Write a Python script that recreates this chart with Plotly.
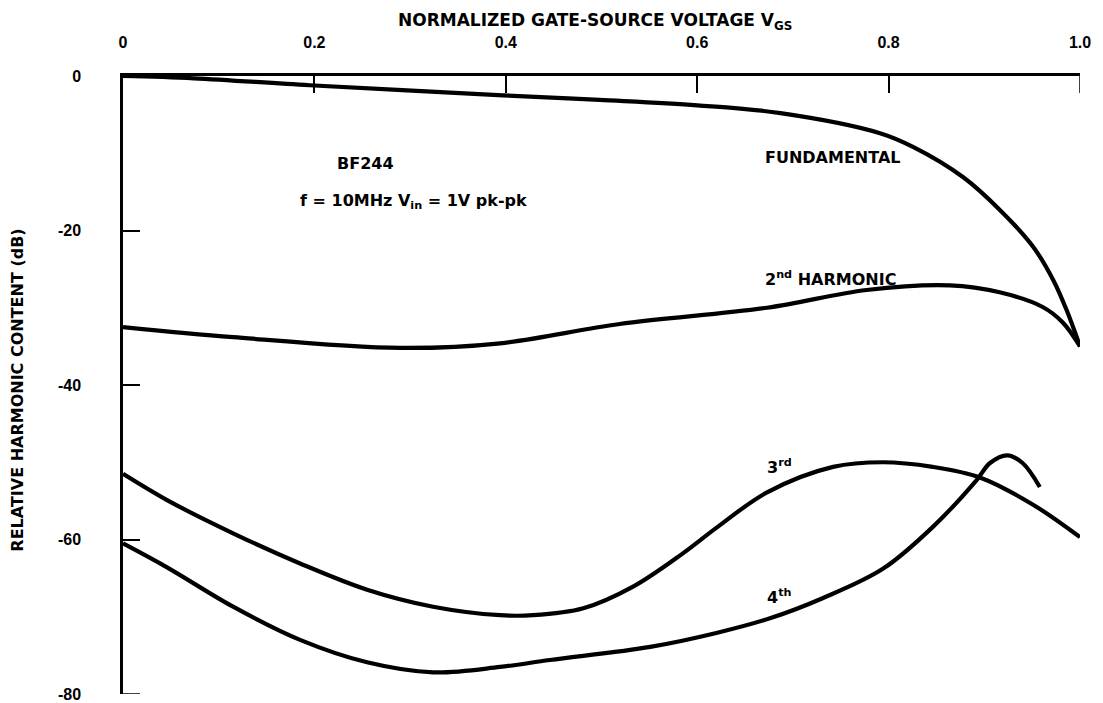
import plotly.graph_objects as go

# ---- data ----
fund_x = [0, 0.074, 0.195, 0.397, 0.498, 0.6, 0.687, 0.791, 0.826, 0.878, 0.916, 0.951, 0.972, 0.986, 1.0]
fund_y = [0, -0.3, -1.2, -2.5, -3.1, -3.8, -4.8, -7.4, -9.2, -13.1, -17.3, -22.1, -26.4, -30.3, -35.0]

h2_x = [0, 0.115, 0.289, 0.394, 0.519, 0.673, 0.777, 0.864, 0.916, 0.961, 0.982, 1.0]
h2_y = [-32.5, -33.8, -35.2, -34.6, -32.1, -30.0, -27.7, -27.1, -28.0, -29.9, -31.9, -35.0]

h3_x = [0, 0.046, 0.115, 0.185, 0.255, 0.324, 0.394, 0.428, 0.481, 0.533, 0.585, 0.620,
        0.673, 0.742, 0.794, 0.846, 0.896, 0.951, 1.0]
h3_y = [-51.5, -54.9, -59.2, -63.1, -66.5, -68.7, -69.8, -69.8, -68.9, -66.1, -61.8, -58.5,
        -53.9, -50.6, -50.0, -50.6, -52.0, -55.5, -59.7]

h4_x = [0, 0.046, 0.115, 0.185, 0.255, 0.324, 0.394, 0.446, 0.551, 0.620, 0.676, 0.731,
        0.794, 0.846, 0.892, 0.906, 0.924, 0.940, 0.958]
h4_y = [-60.5, -63.6, -68.7, -73.0, -75.9, -77.2, -76.5, -75.6, -73.9, -72.1, -70.2, -67.6,
        -63.8, -58.4, -52.3, -50.1, -49.1, -50.1, -53.2]

x_ticks = [0, 0.2, 0.4, 0.6, 0.8, 1.0]
x_ticklabels = ["0", "0.2", "0.4", "0.6", "0.8", "1.0"]
y_ticks = [0, -20, -40, -60, -80]
y_ticklabels = ["0", "-20", "-40", "-60", "-80"]

TXT = dict(family="DejaVu Sans", size=16, color="black", weight="bold")
TITLE = dict(family="DejaVu Sans", size=17, color="black", weight="bold")
TICK = dict(family="Liberation Sans", size=16, color="black", weight="bold")

fig = go.Figure()
for xs, ys in [(fund_x, fund_y), (h2_x, h2_y), (h3_x, h3_y), (h4_x, h4_y)]:
    fig.add_trace(go.Scatter(x=xs, y=ys, mode="lines",
                             line=dict(color="black", width=4.2, shape="spline", smoothing=1.0),
                             showlegend=False, hoverinfo="skip"))

fig.update_layout(
    width=1103, height=703,
    margin=dict(l=123, r=23, t=76, b=9),
    paper_bgcolor="white", plot_bgcolor="white",
    xaxis=dict(range=[0, 1.0], side="top", showgrid=False, zeroline=False, automargin=False,
               showline=True, linecolor="black", linewidth=2.5,
               ticks="inside", ticklen=17, tickwidth=1.5, tickcolor="black",
               tickvals=x_ticks, ticktext=x_ticklabels, tickfont=TICK,
               ticklabelstandoff=19),
    yaxis=dict(range=[-80, 0], showgrid=False, zeroline=False, automargin=False,
               showline=True, linecolor="black", linewidth=2.5,
               ticks="inside", ticklen=17, tickwidth=1.5, tickcolor="black",
               tickvals=y_ticks, ticktext=y_ticklabels, tickfont=TICK,
               ticklabelstandoff=36),
)

# edge ticks that plotly hides where they meet the plot border
fig.add_shape(type="line", xref="x", yref="y", x0=1.0, x1=1.0, y0=0, y1=-17,
              ysizemode="pixel", yanchor=0, line=dict(color="black", width=1.5))
fig.add_shape(type="line", xref="x", yref="y", x0=0, x1=17, y0=-80, y1=-80,
              xsizemode="pixel", xanchor=0, line=dict(color="black", width=1.5))

ann = [
    dict(text="NORMALIZED GATE-SOURCE VOLTAGE V<sub>GS</sub>", xref="paper", yref="paper",
         x=0.493, y=1.088, xanchor="center", yanchor="middle", font=TITLE),
    dict(text="RELATIVE HARMONIC CONTENT (dB)", xref="paper", yref="paper",
         x=-0.11, y=0.492, xanchor="center", yanchor="middle", textangle=-90),
    dict(text="BF244", x=0.2215, y=-11.3, xanchor="left", yanchor="middle"),
    dict(text="f = 10MHz V<sub>in</sub> = 1V pk-pk", x=0.183, y=-16.2, xanchor="left", yanchor="middle"),
    dict(text="FUNDAMENTAL", x=0.669, y=-10.6, xanchor="left", yanchor="middle"),
    dict(text="2<sup>nd</sup> HARMONIC", x=0.669, y=-26.2, xanchor="left", yanchor="middle"),
    dict(text="3<sup>rd</sup>", x=0.671, y=-50.6, xanchor="left", yanchor="middle"),
    dict(text="4<sup>th</sup>", x=0.671, y=-67.4, xanchor="left", yanchor="middle"),
]
for a in ann:
    a.setdefault("xref", "x")
    a.setdefault("yref", "y")
    a.setdefault("font", TXT)
    fig.add_annotation(showarrow=False, **a)

fig.write_html("out.html", config={"displayModeBar": False},
               post_script="document.body.style.margin='0px';document.body.style.overflow='hidden';")
